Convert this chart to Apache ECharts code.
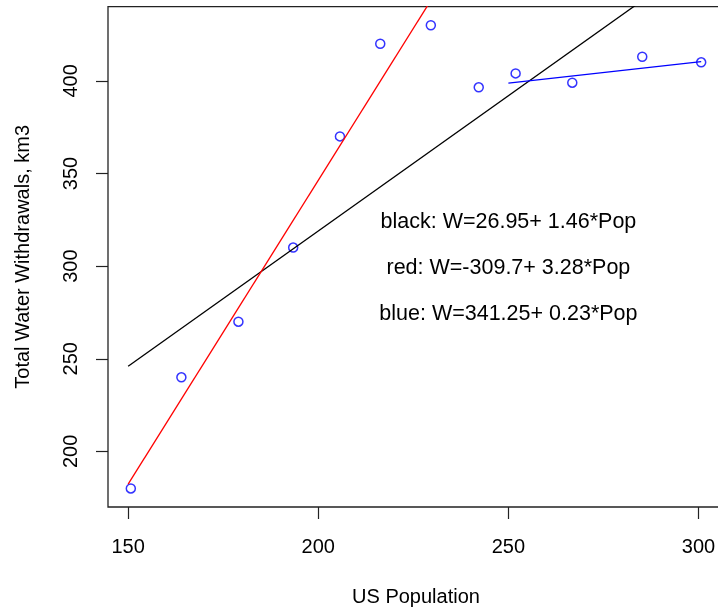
<!DOCTYPE html>
<html>
<head>
<meta charset="utf-8">
<script src="https://cdn.jsdelivr.net/npm/echarts@6/dist/echarts.min.js"></script>
<style>
  html, body { margin: 0; padding: 0; background: #fff; }
  #chart { width: 718px; height: 608px; }
</style>
</head>
<body>
<div id="chart"></div>
<script>
// US population (millions) and total water withdrawals (km3)
const population  = [150.7, 164.0, 179.0, 193.4, 205.7, 216.3, 229.6, 242.2, 251.9, 266.8, 285.2, 300.7];
const withdrawals = [180, 240, 270, 310, 370, 420, 430, 396.5, 404, 399, 413, 410];

// Axis ticks
const xTicks = [150, 200, 250, 300];
const yTicks = [200, 250, 300, 350, 400];

// Linear fits W = a + b*Pop, with the population span each one covers
const fitNames      = ['black', 'red', 'blue'];
const fitIntercepts = [26.95, -309.7, 341.25];
const fitSlopes     = [1.46, 3.28, 0.23];
const fitFrom       = [150, 150, 250];
const fitTo         = [300, 230, 300.7];

const FONT = '"Liberation Sans", Arial, Helvetica, sans-serif';
const fitColors = { black: '#000000', red: '#ff0000', blue: '#0000ff' };
// where each equation is written, in data units
const eqAnchor = [[250, 325], [250, 300], [250, 275]];

const points = population.map((p, i) => [p, withdrawals[i]]);

const fitSeries = fitNames.map((name, i) => ({
  type: 'line',
  name: name,
  data: [fitFrom[i], fitTo[i]].map(x => [x, fitIntercepts[i] + fitSlopes[i] * x]),
  symbol: 'none',
  clip: true,
  silent: true,
  lineStyle: { color: fitColors[name], width: 1.3 },
  z: 3
}));

const eqTexts = fitNames.map((name, i) => name + ': W=' + fitIntercepts[i] + '+ ' + fitSlopes[i] + '*Pop');

const chart = echarts.init(document.getElementById('chart'), null, { renderer: 'canvas' });
chart.setOption({
  animation: false,
  backgroundColor: '#ffffff',
  textStyle: { fontFamily: FONT },
  // the plot box runs a little past the right edge of the page
  grid: {
    left: 108, top: 6.7, width: 616, height: 500.3,
    outerBoundsMode: 'none',
    containLabel: false,
    show: true, borderColor: '#222', borderWidth: 1.3, backgroundColor: 'transparent'
  },
  xAxis: {
    type: 'value',
    min: 144.7, max: 306.7,
    name: 'US Population',
    nameLocation: 'middle',
    nameGap: 80,
    nameTextStyle: { fontSize: 20, color: '#000', fontFamily: FONT },
    axisLine: { show: false },
    splitLine: { show: false },
    axisTick: { show: true, length: 12, customValues: xTicks, lineStyle: { color: '#222', width: 1.2 } },
    axisLabel: { customValues: xTicks, margin: 30, fontSize: 20, color: '#000', fontFamily: FONT }
  },
  yAxis: {
    type: 'value',
    min: 170, max: 440,
    name: 'Total Water Withdrawals, km3',
    nameLocation: 'middle',
    nameGap: 75,
    nameRotate: 90,
    nameTextStyle: { fontSize: 20, color: '#000', fontFamily: FONT },
    axisLine: { show: false },
    splitLine: { show: false },
    axisTick: { show: true, length: 12, customValues: yTicks, lineStyle: { color: '#222', width: 1.2 } },
    axisLabel: { customValues: yTicks, rotate: 90, margin: 27, fontSize: 20, color: '#000', fontFamily: FONT }
  },
  series: [
    {
      type: 'scatter',
      data: points,
      symbol: 'circle',
      symbolSize: 9,
      silent: true,
      itemStyle: { color: 'rgba(0,0,0,0)', borderColor: '#0000ff', borderWidth: 1.5 },
      z: 2
    },
    ...fitSeries,
    {
      // fitted equations, written centred on their anchors
      type: 'custom',
      data: eqAnchor,
      silent: true,
      z: 4,
      renderItem: (params, api) => {
        const pt = api.coord([api.value(0), api.value(1)]);
        return {
          type: 'text',
          x: pt[0],
          y: pt[1] + 2,
          style: {
            text: eqTexts[params.dataIndex],
            fill: '#000',
            font: '21.5px ' + FONT,
            align: 'center',
            verticalAlign: 'middle'
          }
        };
      }
    }
  ]
});
</script>
</body>
</html>
